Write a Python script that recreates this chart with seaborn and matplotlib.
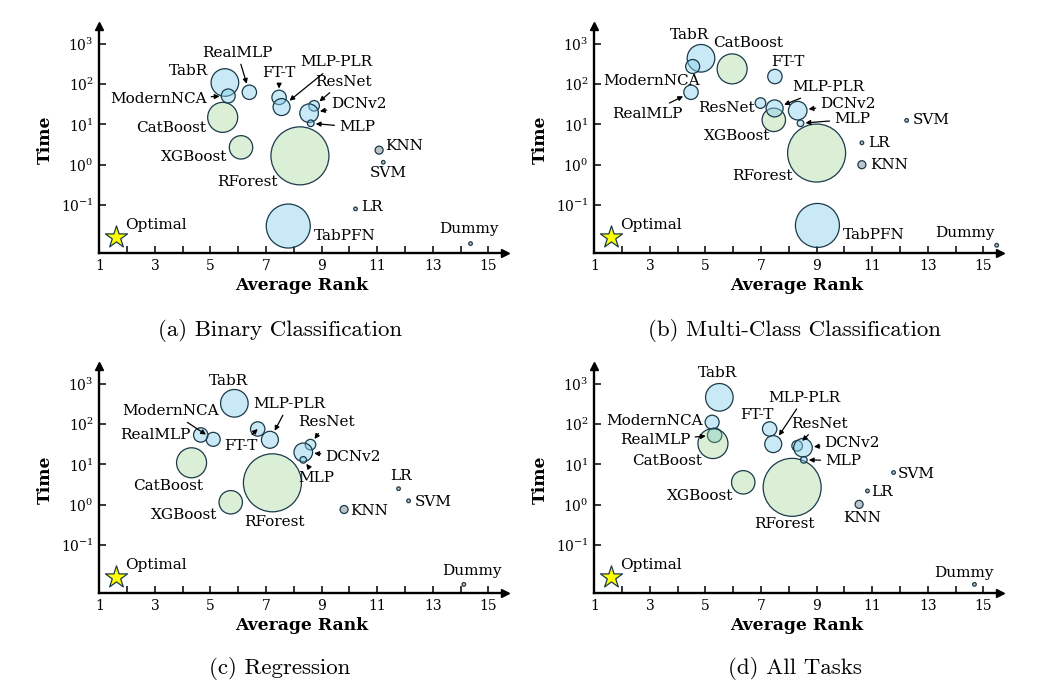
import numpy as np
import pandas as pd
import matplotlib
matplotlib.use("Agg")
import matplotlib.pyplot as plt
import seaborn as sns

# methods shown in every panel (TabPFN only in the classification panels)
methods = ["TabR", "ModernNCA", "RealMLP", "CatBoost", "XGBoost", "RForest", "TabPFN",
           "FT-T", "MLP-PLR", "ResNet", "DCNv2", "MLP", "KNN", "SVM", "LR", "Dummy"]
families = ["deep", "deep", "deep", "tree", "tree", "tree", "deep",
            "deep", "deep", "deep", "deep", "deep", "classic", "classic", "classic", "classic"]
# bubble radius (px), same for a method in every panel
bubble_radius = [13.8, 7.0, 7.2, 15.0, 11.7, 29.0, 22.0, 7.2, 8.5, 5.3, 9.3, 3.3, 4.0, 1.8, 1.8, 1.8]

nan = np.nan
rank_binary = [5.52, 5.64, 6.40, 5.44, 6.10, 8.22, 7.80, 7.47, 7.56, 8.73, 8.55, 8.61, 11.07, 11.22, 10.22, 14.36]
time_binary = [110, 51, 63, 15, 2.7, 1.66, 0.030, 47, 27, 29, 19, 10.7, 2.3, 1.15, 0.080, 0.011]

rank_multi = [4.84, 4.54, 4.48, 5.96, 7.46, 9.00, 9.03, 7.50, 7.49, 6.98, 8.32, 8.42, 10.63, 12.24, 10.63, 15.48]
time_multi = [440, 275, 63, 240, 13, 1.95, 0.031, 155, 25, 34, 22, 10.7, 1.0, 12.6, 3.5, 0.010]

rank_reg = [5.86, 5.10, 4.65, 4.32, 5.73, 7.23, nan, 6.70, 7.14, 8.60, 8.34, 8.34, 9.81, 12.13, 11.77, 14.12]
time_reg = [330, 42, 54, 11, 1.15, 3.5, nan, 76, 41, 31, 20, 13, 0.76, 1.25, 2.5, 0.0105]

rank_all = [5.50, 5.24, 5.33, 5.27, 6.36, 8.12, nan, 7.31, 7.44, 8.30, 8.51, 8.54, 10.53, 11.77, 10.83, 14.68]
time_all = [465, 112, 53, 33, 3.6, 2.7, nan, 76, 32, 29, 26, 13, 1.02, 6.3, 2.2, 0.0105]

optimal_rank = 1.6
optimal_time = 0.016

captions = ["(a) Binary Classification", "(b) Multi-Class Classification",
            "(c) Regression", "(d) All Tasks"]

# label placement: offset of label centre from point in px (dx, dy down), arrow?
labels_a = {"TabR": (-36, -11.7, 0), "RealMLP": (-12, -39.6, 1), "ModernNCA": (-70, 3, 1),
            "CatBoost": (-51.7, 10.6, 0), "XGBoost": (-46.7, 9.6, 0), "RForest": (-52.7, 25.7, 0),
            "TabPFN": (56.7, 9.7, 0), "FT-T": (0, -24.7, 1), "MLP-PLR": (55, -44.6, 1),
            "ResNet": (29, -24.3, 1), "DCNv2": (50, -9, 1), "MLP": (46.3, 4, 1),
            "KNN": (24.7, -4.3, 0), "SVM": (5, 11, 0), "LR": (16, -2, 0), "Dummy": (-1.7, -14.3, 0)}
labels_b = {"TabR": (-11.4, -23.3, 0), "CatBoost": (16.3, -26, 0), "ModernNCA": (-41.5, 14.3, 0),
            "RealMLP": (-43.4, 21.7, 1), "ResNet": (-34, 5, 0), "XGBoost": (-36.6, 16, 0),
            "RForest": (-54.3, 22.7, 0), "FT-T": (12.7, -14.7, 0), "MLP-PLR": (53.3, -21, 1),
            "DCNv2": (50.4, -7, 1), "MLP": (51.7, -4, 1), "SVM": (24.3, 0, 0), "LR": (17.3, 0, 0),
            "KNN": (27.3, 0.7, 0), "TabPFN": (56.6, 9.7, 0), "Dummy": (-32, -12.3, 0)}
labels_c = {"TabR": (-6, -22.7, 0), "ModernNCA": (-42.6, -28, 1), "RealMLP": (-45.7, -0.3, 0),
            "FT-T": (-17, 16.7, 1), "MLP-PLR": (19, -36, 1), "CatBoost": (-23.4, 23.3, 0),
            "XGBoost": (-46.7, 12.6, 0), "RForest": (1.5, 39.2, 0), "ResNet": (16, -22.6, 1),
            "DCNv2": (50, 4.3, 1), "MLP": (13.4, 17.7, 1), "LR": (2.3, -12.3, 0),
            "SVM": (24.6, 0.7, 0), "KNN": (25, 1.7, 0), "Dummy": (7.7, -13, 0)}
labels_d = {"TabR": (-1.7, -24, 0), "ModernNCA": (-57.7, -1.7, 0), "RealMLP": (-59.3, 5, 1),
            "CatBoost": (-45.4, 17.7, 0), "XGBoost": (-42.7, 14, 0), "FT-T": (-12.3, -14.3, 0),
            "MLP-PLR": (31, -46.6, 1), "ResNet": (22.6, -22.3, 1), "DCNv2": (49.4, -4.6, 1),
            "MLP": (39.4, 0.7, 1), "RForest": (-8.2, 36.6, 0), "SVM": (22.3, 1.3, 0),
            "LR": (14.3, 0.7, 0), "KNN": (3.4, 14, 0), "Dummy": (-10.6, -11.3, 0)}

sns.set_style("ticks")
plt.rcParams["font.family"] = ["DejaVu Serif"]
plt.rcParams["mathtext.fontset"] = "dejavuserif"
plt.rcParams["text.color"] = "black"
plt.rcParams["axes.labelcolor"] = "black"
plt.rcParams["xtick.color"] = "black"
plt.rcParams["ytick.color"] = "black"
plt.rcParams["axes.edgecolor"] = "black"

edge = "#1b3a4b"
face = {"deep": (0.53, 0.81, 0.92, 0.45), "tree": (0.56, 0.80, 0.50, 0.32),
        "classic": (0.55, 0.58, 0.62, 0.55)}
PT = 0.72  # points per pixel at dpi 100

fig = plt.figure(figsize=(10.59, 6.94), dpi=100)
W, H = 1059, 694
panels = [
    (99.3, 253.3, rank_binary, time_binary, labels_a, 280, 330),
    (594.3, 253.3, rank_multi, time_multi, labels_b, 795, 330),
    (99.3, 593.3, rank_reg, time_reg, labels_c, 280, 668),
    (594.3, 593.3, rank_all, time_all, labels_d, 795, 668),
]

for i, (lx, by, ranks, times, lab, cx, cy) in enumerate(panels):
    ax = fig.add_axes([lx / W, (H - by) / H, 405.7 / W, 227.5 / H])
    ax.set_yscale("log")
    df = pd.DataFrame({"method": methods, "family": families, "rank": ranks,
                       "time": times, "r": bubble_radius}).dropna()
    df["s"] = (2 * df["r"] * PT) ** 2
    sns.scatterplot(data=df, x="rank", y="time", size="s",
                    sizes={v: v for v in df["s"].unique()},
                    color="white", edgecolor=edge, linewidth=0.9, legend=False, ax=ax, zorder=3)
    pts = ax.collections[-1]
    pts.set_facecolor([face[f] for f in df["family"]])
    pts.set_edgecolor(edge)

    sns.scatterplot(x=[optimal_rank], y=[optimal_time], marker="*", s=280, color="#ffff00",
                    edgecolor=edge, linewidth=0.9, ax=ax, zorder=4, clip_on=False)
    ax.annotate("Optimal", xy=(optimal_rank, optimal_time), xytext=(39.7 * PT, 12 * PT),
                textcoords="offset points", ha="center", va="center", fontsize=11)

    for _, row in df.iterrows():
        dx, dy, arrow = lab[row["method"]]
        props = None
        if arrow:
            props = dict(arrowstyle="-|>", color="black", lw=0.9, mutation_scale=7,
                         shrinkA=1, shrinkB=row["r"] * PT + 1.2)
        ax.annotate(row["method"], xy=(row["rank"], row["time"]),
                    xytext=(dx * PT, -dy * PT), textcoords="offset points",
                    ha="center", va="center", fontsize=11, arrowprops=props, zorder=5)

    ax.set_xlim(1, 15.6)
    ax.set_ylim(10 ** -2.2, 10 ** 3.45)
    ax.set_xticks(range(1, 16, 2))
    ax.set_xticks(range(2, 16, 2), minor=True)
    ax.set_yticks([0.1, 1, 10, 100, 1000])
    ax.yaxis.set_minor_locator(matplotlib.ticker.NullLocator())
    ax.tick_params(which="both", direction="in", length=5, width=1.1, labelsize=10, pad=4)
    ax.tick_params(axis="y", which="minor", length=0)
    for side in ["top", "right"]:
        ax.spines[side].set_visible(False)
    for side in ["left", "bottom"]:
        ax.spines[side].set_linewidth(1.7)
    ax.plot(1, 0, ">", color="black", ms=6, transform=ax.transAxes, clip_on=False)
    ax.plot(0, 1, "^", color="black", ms=6, transform=ax.transAxes, clip_on=False)
    ax.set_xlabel("Average Rank", fontweight="bold", fontsize=12.3, labelpad=3)
    ax.set_ylabel("Time", fontweight="bold", fontsize=12.3, labelpad=5)

    fig.text(cx / W, 1 - cy / H, captions[i], family="cmr10", fontsize=16.5,
             ha="center", va="center")

fig.savefig("out.png", dpi=100)
